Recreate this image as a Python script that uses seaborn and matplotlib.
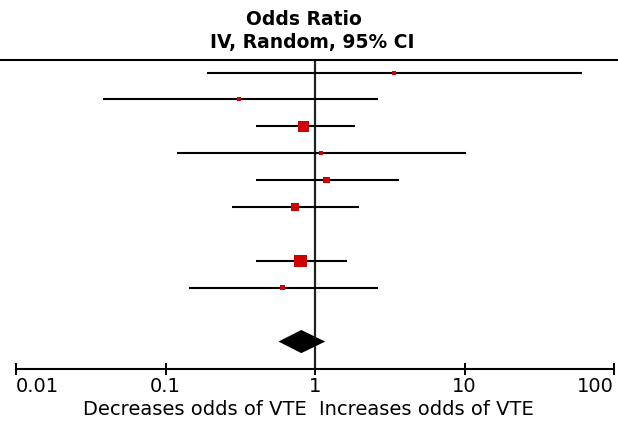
import numpy as np
import pandas as pd
import matplotlib
matplotlib.use("Agg")
import matplotlib.pyplot as plt
import seaborn as sns

# study rows (top to bottom); rows 6 and 9 are blank spacers
row_pos = [0, 1, 2, 3, 4, 5, 7, 8]
odds_ratio = [3.4, 0.31, 0.84, 1.09, 1.20, 0.73, 0.80, 0.61]
ci_low = [0.19, 0.038, 0.40, 0.119, 0.40, 0.28, 0.40, 0.143]
ci_high = [61.4, 2.62, 1.84, 10.3, 3.65, 1.96, 1.63, 2.62]
weight = [3.6, 3.6, 26.0, 3.6, 10.2, 14.5, 32.7, 5.7]

# pooled estimate (random effects)
pooled_row = 10
pooled_or = 0.81
pooled_low = 0.57
pooled_high = 1.17

tick_values = [0.01, 0.1, 1, 10, 100]
tick_labels = ["0.01", "0.1", "1", "10", "100"]

sns.set_theme(style="white")
plt.rcParams["font.family"] = ["DejaVu Sans"]
plt.rcParams["text.color"] = "black"
plt.rcParams["xtick.color"] = "black"

W, H = 618, 422
fig = plt.figure(figsize=(W / 100, H / 100), dpi=100)
ax = fig.add_axes([0, (H - 369) / H, 1, (369 - 60) / H])

df = pd.DataFrame({"row": row_pos, "or": odds_ratio, "lo": ci_low,
                   "hi": ci_high, "w": weight})

red = "#d00000"
ax.hlines(df["row"], df["lo"], df["hi"], color="black", lw=1.5, zorder=2)
sns.scatterplot(data=df, x="or", y="row", size="w", sizes=(0, 75),
                size_norm=(0, max(weight)), marker="s", color=red,
                linewidth=0, legend=False, ax=ax, zorder=3)

# pooled diamond
half = 0.43
ax.fill([pooled_low, pooled_or, pooled_high, pooled_or],
        [pooled_row, pooled_row - half, pooled_row, pooled_row + half],
        color="black", lw=0, zorder=3)

# line of no effect
ax.axvline(1, color="#222222", lw=1.6, zorder=1)

ax.set_xscale("log")
dec = 149.5
ax.set_xlim(10 ** (-2 - 16 / dec), 10 ** (2 + (W - 614) / dec))
ax.set_ylim(11.02, -0.465)
ax.set_xlabel("")
ax.set_ylabel("")

for s in ["left", "right"]:
    ax.spines[s].set_visible(False)
for s in ["top", "bottom"]:
    ax.spines[s].set_color("black")
    ax.spines[s].set_linewidth(1.5)
ax.spines["bottom"].set_bounds(0.01, 100)

ax.set_yticks([])
ax.set_xticks(tick_values, labels=tick_labels)
ax.xaxis.set_minor_locator(matplotlib.ticker.NullLocator())
ax.tick_params(axis="x", direction="inout", length=8, width=1.4,
               color="black", labelcolor="black", labelsize=14, pad=1.5,
               bottom=True)
lbls = ax.get_xticklabels()
lbls[0].set_ha("left")
lbls[-1].set_ha("right")

fig.text(304 / W, 1 - 25 / H, "Odds Ratio", ha="center", va="baseline",
         fontsize=13.5, fontweight="bold")
fig.text(312 / W, 1 - 48 / H, "IV, Random, 95% CI", ha="center",
         va="baseline", fontsize=13.5, fontweight="bold")
fig.text(307 / W, 1 - 415 / H, "Decreases odds of VTE", ha="right",
         va="baseline", fontsize=14)
fig.text(319 / W, 1 - 415 / H, "Increases odds of VTE", ha="left",
         va="baseline", fontsize=14)

fig.savefig("out.png", dpi=100)
